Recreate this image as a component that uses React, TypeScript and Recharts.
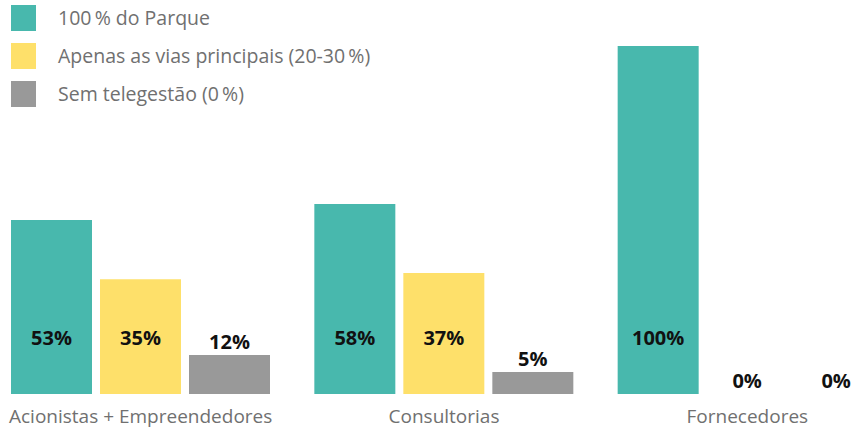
import { BarChart, Bar, XAxis, YAxis, LabelList } from "recharts";

const CATEGORIES = ["Acionistas + Empreendedores", "Consultorias", "Fornecedores"];

// bar heights (share of the tallest bar)
const PARQUE = [50, 54.6, 100];
const VIAS = [33, 34.8, 0];
const SEM = [11.2, 6.3, 0];

// printed labels
const PARQUE_LABELS = ["53%", "58%", "100%"];
const VIAS_LABELS = ["35%", "37%", "0%"];
const SEM_LABELS = ["12%", "5%", "0%"];

const SERIES = [
  { key: "parque", label: "100\u2009% do Parque", color: "#48B8AD" },
  { key: "vias", label: "Apenas as vias principais (20-30\u2009%)", color: "#FEE06A" },
  { key: "sem", label: "Sem telegestão (0\u2009%)", color: "#999999" },
];

const FONT = "'Open Sans', 'Noto Sans', sans-serif";

const data = CATEGORIES.map((name, i) => ({
  name,
  parque: PARQUE[i],
  vias: VIAS[i],
  sem: SEM[i],
  parqueLabel: PARQUE_LABELS[i],
  viasLabel: VIAS_LABELS[i],
  semLabel: SEM_LABELS[i],
}));

function renderValueLabel(props: any) {
  const { x, y, width, height, value } = props;
  const top = Math.min(y, y + (height || 0));
  const cy = Math.max(338, top - 13);
  return (
    <text
      x={x + width / 2}
      y={cy}
      dy="0.36em"
      textAnchor="middle"
      fontFamily={FONT}
      fontWeight={700}
      fontSize={20}
      fill="#111"
    >
      {value}
    </text>
  );
}

export default function App() {
  return (
    <div style={{ position: "absolute", left: 0, top: 0, width: 860, height: 430, overflow: "hidden", background: "#fff" }}>
      <div style={{ position: "absolute", left: 0, top: 0, zIndex: 2, fontFamily: FONT }}>
        {SERIES.map((s, i) => (
          <div key={s.key} style={{ position: "absolute", left: 11, top: 5 + i * 38, display: "flex", alignItems: "center", whiteSpace: "nowrap" }}>
            <span style={{ width: 25, height: 26, background: s.color, display: "inline-block" }} />
            <span style={{ marginLeft: 22, fontSize: 19.5, color: "#707070", lineHeight: "26px" }}>{s.label}</span>
          </div>
        ))}
      </div>
      <div style={{ position: "absolute", left: -11, top: 0 }}>
        <BarChart width={910} height={430} data={data} margin={{ top: 46, right: 0, left: 0, bottom: 0 }} barSize={81} barGap={8}>
          <YAxis hide domain={[0, 100]} />
          <XAxis
            dataKey="name"
            axisLine={false}
            tickLine={false}
            height={36}
            tickMargin={10}
            interval={0}
            tick={{ fill: "#707070", fontSize: 19, fontFamily: FONT }}
          />
          {SERIES.map((s) => (
            <Bar key={s.key} dataKey={s.key} fill={s.color} minPointSize={0.01} isAnimationActive={false}>
              <LabelList dataKey={s.key + "Label"} content={renderValueLabel} />
            </Bar>
          ))}
        </BarChart>
      </div>
    </div>
  );
}
